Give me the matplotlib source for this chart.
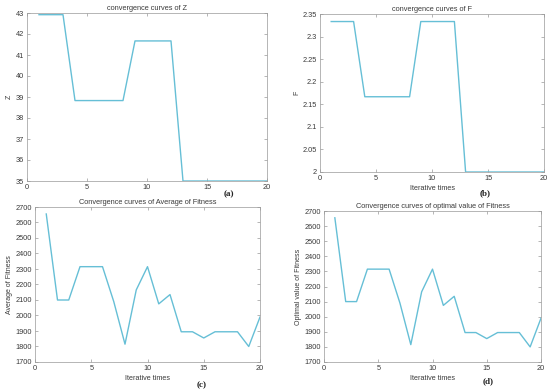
import numpy as np
import matplotlib.pyplot as plt

plt.rcParams['font.family'] = ['Liberation Sans', 'DejaVu Sans']

iters = list(range(1, 21))
z_vals = [42.92, 42.92, 42.92, 38.83, 38.83, 38.83, 38.83, 38.83, 41.67, 41.67,
          41.67, 41.67, 35.0, 35.0, 35.0, 35.0, 35.0, 35.0, 35.0, 35.0]
f_vals = [2.3333, 2.3333, 2.3333, 2.1667, 2.1667, 2.1667, 2.1667, 2.1667, 2.3333, 2.3333,
          2.3333, 2.3333, 2.0, 2.0, 2.0, 2.0, 2.0, 2.0, 2.0, 2.0]
avg_fit = [2655, 2100, 2100, 2315, 2315, 2315, 2090, 1815, 2165, 2315,
           2075, 2135, 1895, 1895, 1855, 1895, 1895, 1895, 1800, 1990]
opt_fit = [2655, 2100, 2100, 2315, 2315, 2315, 2090, 1815, 2165, 2315,
           2075, 2135, 1895, 1895, 1855, 1895, 1895, 1895, 1800, 1990]

line_color = '#66bfd6'
txt = '#3a3a3a'

fig = plt.figure(figsize=(5.5, 3.92), dpi=100)
W, H = 550, 392

panels = [
    dict(box=(27, 13, 267, 181), y=z_vals, ylim=(35, 43), yticks=np.arange(35, 44, 1),
         ylabs=None, title='convergence curves of Z', ylabel='Z', xlabel=None,
         tag='(a)', tagpos=(229, 194)),
    dict(box=(320, 14, 544, 172), y=f_vals, ylim=(2.0, 2.35), yticks=np.arange(2.0, 2.351, 0.05),
         ylabs=['2', '2.05', '2.1', '2.15', '2.2', '2.25', '2.3', '2.35'],
         title='convergence curves of F', ylabel='F', xlabel='Iterative times',
         tag='(b)', tagpos=(485, 193)),
    dict(box=(35, 207, 260, 362), y=avg_fit, ylim=(1700, 2700), yticks=np.arange(1700, 2701, 100),
         ylabs=None, title='Convergence curves of Average of Fitness', ylabel='Average of Fitness',
         xlabel='Iterative times', tag='(c)', tagpos=(202, 385)),
    dict(box=(324, 211, 541, 362), y=opt_fit, ylim=(1700, 2700), yticks=np.arange(1700, 2701, 100),
         ylabs=None, title='Convergence curves of optimal value of Fitness',
         ylabel='Optimal value of Fitness', xlabel='Iterative times',
         tag='(d)', tagpos=(488, 381)),
]

for p in panels:
    l, t, r, b = p['box']
    ax = fig.add_axes([l / W, (H - b) / H, (r - l) / W, (b - t) / H])
    ax.plot(iters, p['y'], color=line_color, linewidth=1.0)
    ax.set_xlim(0, 20)
    ax.set_ylim(*p['ylim'])
    ax.set_xticks([0, 5, 10, 15, 20])
    ax.set_yticks(p['yticks'])
    if p['ylabs'] is not None:
        ax.set_yticklabels(p['ylabs'])
    ax.tick_params(direction='in', top=True, right=True, labelsize=5.3,
                   length=2, width=0.5, colors='#999999', labelcolor=txt, pad=2)
    for s in ax.spines.values():
        s.set_linewidth(0.5)
        s.set_color('#999999')
    ax.set_title(p['title'], fontsize=5.3, color=txt, pad=2)
    ax.set_ylabel(p['ylabel'], fontsize=5.0, color=txt, labelpad=2)
    if p['xlabel']:
        ax.set_xlabel(p['xlabel'], fontsize=5.2, color=txt, labelpad=2)
    fig.text(p['tagpos'][0] / W, 1 - p['tagpos'][1] / H, p['tag'],
             fontsize=6.5, fontweight='bold', family='Liberation Serif', color='#222222',
             ha='center', va='center')

fig.savefig('out.png', dpi=100)
